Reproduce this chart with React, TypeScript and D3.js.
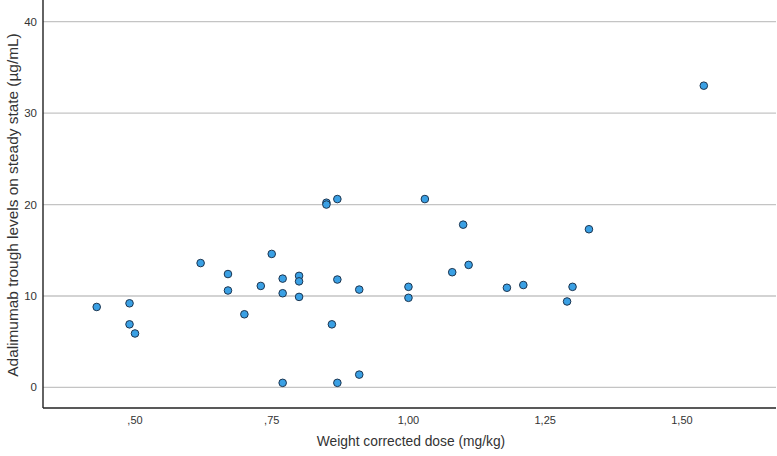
import React from "react";
import * as d3 from "d3";

const doses: number[] = [0.43, 0.49, 0.49, 0.50, 0.62, 0.67, 0.67, 0.70, 0.73, 0.75, 0.77, 0.77, 0.77, 0.80, 0.80, 0.80, 0.85, 0.85, 0.87, 0.87, 0.86, 0.87, 0.91, 0.91, 1.00, 1.00, 1.03, 1.08, 1.10, 1.11, 1.18, 1.21, 1.29, 1.30, 1.33, 1.54];
const troughs: number[] = [8.8, 9.2, 6.9, 5.9, 13.6, 12.4, 10.6, 8.0, 11.1, 14.6, 11.9, 10.3, 0.5, 12.2, 11.6, 9.9, 20.2, 20.0, 20.6, 11.8, 6.9, 0.5, 10.7, 1.4, 11.0, 9.8, 20.6, 12.6, 17.8, 13.4, 10.9, 11.2, 9.4, 11.0, 17.3, 33.0];
const xTicks: number[] = [0.5, 0.75, 1.0, 1.25, 1.5];
const yTicks: number[] = [0, 10, 20, 30, 40];
const xTitle = "Weight corrected dose (mg/kg)";
const yTitle = "Adalimumab trough levels on steady state (µg/mL)";

const W = 777;
const H = 456;
const left = 43;
const right = 776;
const top = 0;
const bottom = 408;

export default function App() {
  const x = d3.scaleLinear().domain([0.3318, 1.672]).range([left, right]);
  const y = d3.scaleLinear().domain([-2.25, 42.37]).range([bottom, top]);
  const fmtX = (v: number) => d3.format(".2f")(v).replace(".", ",").replace(/^0/, "");
  const font = "'Liberation Sans', Arial, sans-serif";
  return (
    <svg width={W} height={H} style={{ position: "absolute", left: 0, top: 0, background: "#fff" }} fontFamily={font}>
      {yTicks.map((t) => (
        <g key={"y" + t}>
          <line x1={left} x2={right} y1={y(t)} y2={y(t)} stroke="#c4c4c4" strokeWidth={1.3} />
          <text x={37} y={y(t)} dy="0.35em" textAnchor="end" fontSize={11.5} fill="#333">{t}</text>
        </g>
      ))}
      {xTicks.map((t) => (
        <text key={"x" + t} x={x(t)} y={424} textAnchor="middle" fontSize={11} fill="#333">{fmtX(t)}</text>
      ))}
      <line x1={left} x2={left} y1={0} y2={bottom} stroke="#222" strokeWidth={1.4} />
      <line x1={left} x2={right} y1={bottom} y2={bottom} stroke="#222" strokeWidth={1.4} />
      {doses.map((d, i) => (
        <circle key={i} cx={x(d)} cy={y(troughs[i])} r={3.8} fill="#3aa0e4" stroke="#1c3550" strokeWidth={1} />
      ))}
      <text x={411} y={446} textAnchor="middle" fontSize={13.8} fill="#333">{xTitle}</text>
      <text transform={`translate(13,${205}) rotate(-90)`} textAnchor="middle" dy="0.35em" fontSize={15.4} fill="#333">{yTitle}</text>
    </svg>
  );
}
